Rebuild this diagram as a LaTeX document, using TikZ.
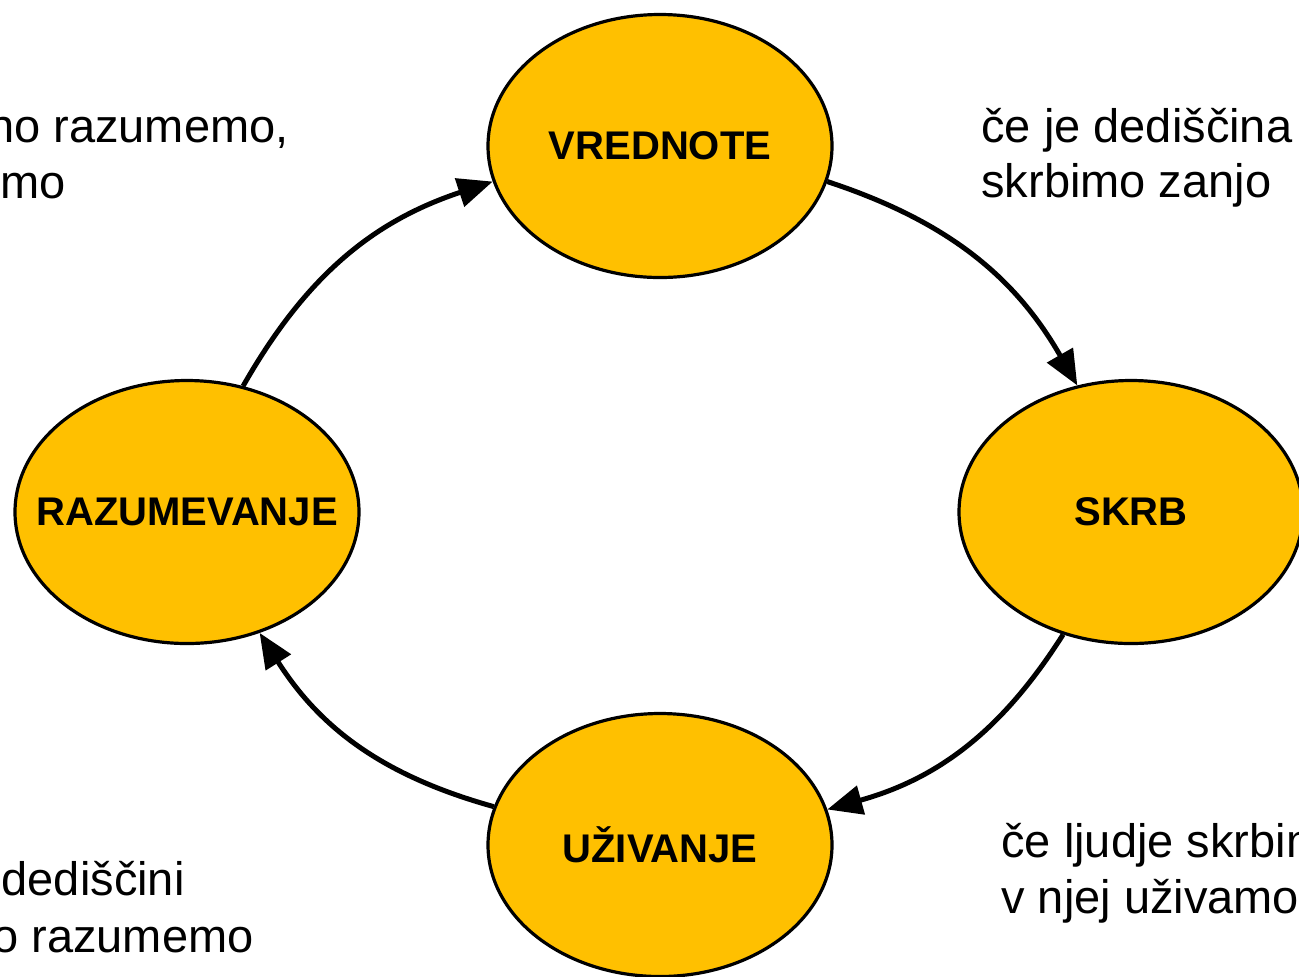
\documentclass[tikz,border=0pt]{standalone}
\usepackage{fontspec}
\setmainfont{Liberation Sans}
\usetikzlibrary{arrows.meta,shapes.geometric}
\definecolor{gold}{HTML}{FFC000}
\newcommand{\stagetext}[1]{\makebox[0pt][c]{#1}}
\begin{document}
\begin{tikzpicture}[x=0.5pt,y=-0.5pt,
  stage/.style={ellipse,draw=black,line width=1.6pt,fill=gold,minimum width=172pt,minimum height=131.5pt,inner sep=0pt,font=\bfseries\fontsize{20}{24}\selectfont},
  flow/.style={line width=2.5pt,-{Triangle[length=17.5pt,width=14.5pt]},bend left=21},
  side/.style={inner sep=0pt,font=\fontsize{23.5}{28}\selectfont}]
\useasboundingbox (0,0) rectangle (1299,976);
\node[stage] (vred) at (660,146) {\stagetext{VREDNOTE}};
\node[stage] (skrb) at (1131,512) {\stagetext{SKRB}};
\node[stage] (raz) at (187,512) {\stagetext{RAZUMEVANJE}};
\node[stage] (uz) at (660,845) {\stagetext{UŽIVANJE}};
\draw[flow] (raz.66) to (vred.192);
\draw[flow] (vred.348) to (skrb.113);
\draw[flow] (skrb.241) to (uz.12);
\draw[flow] (uz.167) to (raz.301);
\node[side,anchor=base east] (tl1) at (289,142) {no razumemo,};
\node[side,anchor=base east] (tl2) at (66,198) {mo};
\node[side,anchor=base west] (tr1) at (981,142) {če je dediščina};
\node[side,anchor=base west] (tr2) at (981,197) {skrbimo zanjo};
\node[side,anchor=base east] (bl1) at (185,895) {dediščini};
\node[side,anchor=base east] (bl2) at (254,952) {o razumemo};
\node[side,anchor=base west] (br1) at (1001,857) {če ljudje skrbim};
\node[side,anchor=base west] (br2) at (1001,913) {v njej uživamo};
\end{tikzpicture}
\end{document}
